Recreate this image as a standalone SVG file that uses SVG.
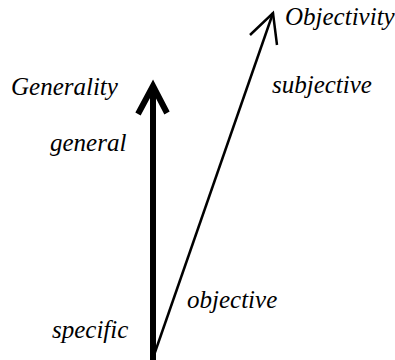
<svg xmlns="http://www.w3.org/2000/svg" width="395" height="360" viewBox="0 0 395 360">
<style>
.thick{stroke:#000;stroke-width:6;fill:none}
.thin{stroke:#000;stroke-width:2.5;fill:none}
</style>
<g id="connectors">
<path class="thick" d="M153,360 V86"/>
<path class="thick" d="M138,114 L153,86 L167,113"/>
<path class="thin" d="M153,358 L273,13"/>
<path class="thin" d="M250,35 L273,13 L277,45"/>
</g>
<g id="generality"><text x="11" y="95" font-family="Liberation Serif" font-style="italic" font-size="25">Generality</text></g>
<g id="objectivity"><text x="285" y="25" font-family="Liberation Serif" font-style="italic" font-size="25">Objectivity</text></g>
<g id="subjective"><text x="272" y="93" font-family="Liberation Serif" font-style="italic" font-size="25">subjective</text></g>
<g id="general"><text x="50" y="151" font-family="Liberation Serif" font-style="italic" font-size="25">general</text></g>
<g id="objective"><text x="187" y="308" font-family="Liberation Serif" font-style="italic" font-size="25">objective</text></g>
<g id="specific"><text x="52" y="338" font-family="Liberation Serif" font-style="italic" font-size="25">specific</text></g>
</svg>
